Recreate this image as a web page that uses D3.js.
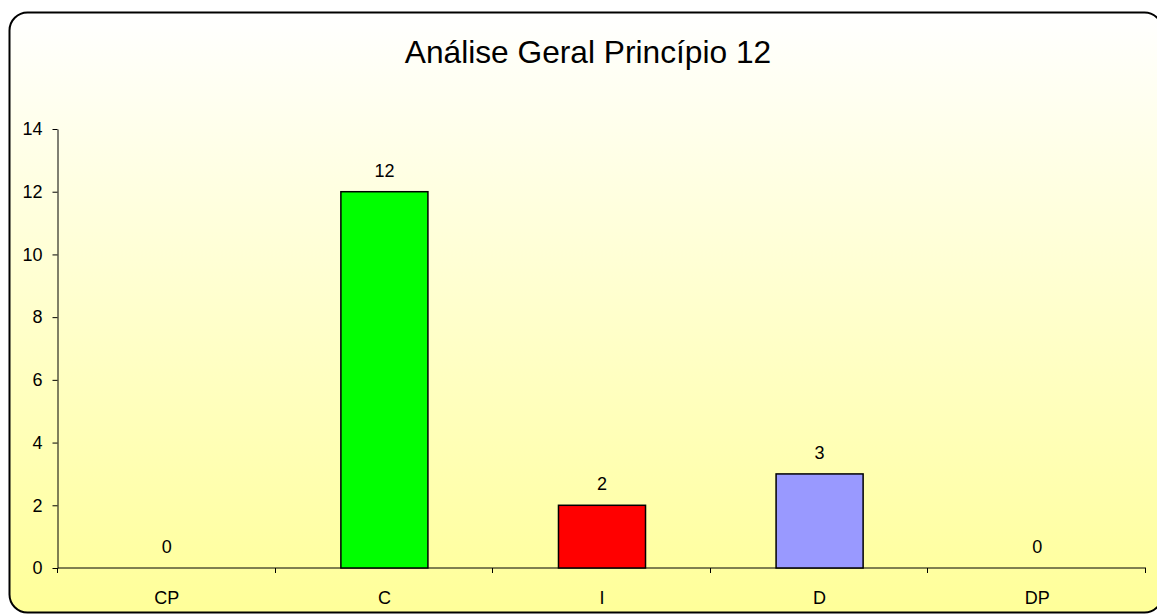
<!DOCTYPE html>
<html>
<head>
<meta charset="utf-8">
<script src="https://cdn.jsdelivr.net/npm/d3@7"></script>
<style>
  body { margin:0; background:#fff; }
  text { font-family: "Liberation Sans", Arial, sans-serif; fill:#000; }
</style>
</head>
<body>
<div id="plot"></div>
<script>
// chart data
var categories = ['CP','C','I','D','DP'];
var values = [0,12,2,3,0];
var colors = ['#00ff00','#00ff00','#ff0000','#9999ff','#9999ff'];
var yTicks = [0,2,4,6,8,10,12,14];
var title = 'Análise Geral Princípio 12';

var W = 1157, H = 614;
var m = {t:129, r:11, b:46, l:58};
var width = W - m.l - m.r,
	height = H - m.t - m.b;

var svg = d3.select('#plot')
	.append('svg')
	.attr('width',W)
	.attr('height',H);

//background gradient
var grad = svg.append('defs').append('linearGradient')
	.attr('id','bg')
	.attr('x1',0).attr('y1',0).attr('x2',0).attr('y2',1);
grad.append('stop').attr('offset','0%').attr('stop-color','#ffffff');
grad.append('stop').attr('offset','100%').attr('stop-color','#ffff99');

svg.append('rect')
	.attr('x',9.5).attr('y',12.5)
	.attr('width',1153).attr('height',600)
	.attr('rx',18).attr('ry',18)
	.style('fill','url(#bg)')
	.style('stroke','#000')
	.style('stroke-width',2);

svg.append('text')
	.attr('x',588).attr('y',63)
	.attr('text-anchor','middle')
	.style('font-size','31.7px')
	.text(title);

var plot = svg.append('g')
	.attr('transform','translate('+m.l+','+m.t+')');

var x = d3.scaleBand()
	.domain(categories)
	.range([0,width])
	.paddingInner(0.6)
	.paddingOuter(0.3);

var y = d3.scaleLinear()
	.domain([0,14])
	.range([height,0]);

//y axis
var yAxis = plot.append('g')
	.attr('transform','translate(-0.5,0)')
	.call(d3.axisLeft(y).tickValues(yTicks).tickSize(5).tickSizeOuter(0).tickPadding(10));
yAxis.selectAll('text').style('font-size','18px');

//x axis with ticks on category boundaries
var bounds = d3.range(categories.length+1).map(function(i){ return i*width/categories.length; });
var xg = plot.append('g').attr('transform','translate(0,'+height+')');
xg.append('line')
	.attr('x1',0).attr('x2',width)
	.attr('y1',0).attr('y2',0)
	.style('stroke','#000');
xg.selectAll('.tk').data(bounds).enter().append('line')
	.attr('class','tk')
	.attr('x1',function(d){ return Math.round(d)-0.5; })
	.attr('x2',function(d){ return Math.round(d)-0.5; })
	.attr('y1',0).attr('y2',5)
	.style('stroke','#000');
xg.selectAll('.lbl').data(categories).enter().append('text')
	.attr('class','lbl')
	.attr('x',function(d){ return x(d)+x.bandwidth()/2; })
	.attr('y',36)
	.attr('text-anchor','middle')
	.style('font-size','18px')
	.text(function(d){ return d; });

//bars
plot.selectAll('.bar').data(values).enter().append('rect')
	.attr('class','bar')
	.attr('x',function(d,i){ return x(categories[i]); })
	.attr('y',function(d){ return y(d); })
	.attr('width',x.bandwidth())
	.attr('height',function(d){ return height - y(d); })
	.style('fill',function(d,i){ return colors[i]; })
	.style('stroke',function(d){ return d>0 ? '#000' : 'none'; })
	.style('stroke-width',1.5);

//value labels
plot.selectAll('.val').data(values).enter().append('text')
	.attr('class','val')
	.attr('x',function(d,i){ return x(categories[i])+x.bandwidth()/2; })
	.attr('y',function(d){ return y(d)-15; })
	.attr('text-anchor','middle')
	.style('font-size','18px')
	.text(function(d){ return d; });
</script>
</body>
</html>
